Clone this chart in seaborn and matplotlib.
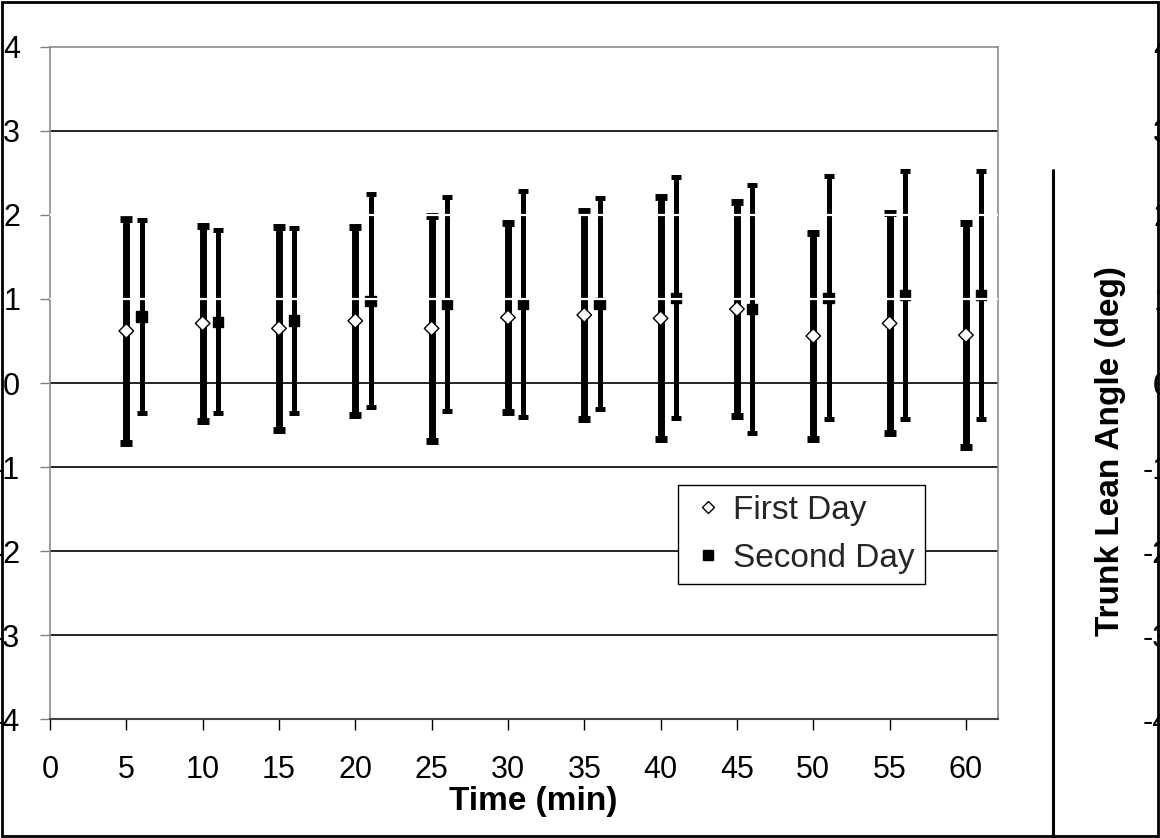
import numpy as np
import pandas as pd
import matplotlib
matplotlib.use("Agg")
import matplotlib.pyplot as plt
import seaborn as sns
from matplotlib.lines import Line2D
from matplotlib.patches import Rectangle

# ---------------- data ----------------
first_day_time = [5, 10, 15, 20, 25, 30, 35, 40, 45, 50, 55, 60]
first_day_mean = [0.62, 0.71, 0.65, 0.74, 0.65, 0.78, 0.81, 0.77, 0.88, 0.56, 0.71, 0.57]
first_day_err = [1.33, 1.16, 1.21, 1.12, 1.34, 1.13, 1.24, 1.44, 1.27, 1.23, 1.31, 1.33]

second_day_time = [6, 11, 16, 21, 26, 31, 36, 41, 46, 51, 56, 61]
second_day_mean = [0.79, 0.73, 0.745, 0.98, 0.94, 0.94, 0.945, 1.015, 0.885, 1.015, 1.045, 1.045]
second_day_err = [1.15, 1.09, 1.105, 1.27, 1.27, 1.34, 1.255, 1.435, 1.475, 1.445, 1.475, 1.475]

series_names = ["First Day", "Second Day"]
x_ticks = [0, 5, 10, 15, 20, 25, 30, 35, 40, 45, 50, 55, 60]
y_ticks = [-4, -3, -2, -1, 0, 1, 2, 3, 4]
x_label = "Time (min)"
y_label = "Trunk Lean Angle (deg)"

df = pd.DataFrame({
    "time": first_day_time + second_day_time,
    "mean": first_day_mean + second_day_mean,
    "day": [series_names[0]] * len(first_day_time) + [series_names[1]] * len(second_day_time),
})

# ---------------- style ----------------
sns.set_theme(style="white")
plt.rcParams["font.family"] = ["Liberation Sans", "DejaVu Sans"]
plt.rcParams["axes.unicode_minus"] = False

fig = plt.figure(figsize=(11.6, 8.38), dpi=100)
ax = fig.add_axes([50 / 1160, 1 - 719 / 838, 948 / 1160, 672 / 838])

# gridlines (1 and 2 appear as white breaks over the bars)
for yv in y_ticks[1:-1]:
    if yv in (1, 2):
        ax.axhline(yv, color="white", lw=1.6, zorder=5)
    else:
        ax.axhline(yv, color="black", lw=1.2, zorder=0.5)

# error bars
ax.errorbar(first_day_time, first_day_mean, yerr=first_day_err, fmt="none",
            ecolor="black", elinewidth=5, capsize=4, capthick=5, zorder=2)
ax.errorbar(second_day_time, second_day_mean, yerr=second_day_err, fmt="none",
            ecolor="black", elinewidth=3.6, capsize=3.6, capthick=3.6, zorder=2)

# markers
sns.scatterplot(data=df, x="time", y="mean", hue="day", style="day",
                markers={series_names[0]: "D", series_names[1]: "s"},
                palette={series_names[0]: "white", series_names[1]: "black"},
                edgecolor="black", linewidth=1, s=55, ax=ax, legend=False, zorder=4)

ax.set_xlim(0, 62.1)
ax.set_ylim(-4, 4)
ax.set_xticks(x_ticks, labels=[str(v) for v in x_ticks])
ax.set_yticks(y_ticks, labels=[str(v) for v in y_ticks])
ax.tick_params(axis="x", bottom=True, direction="out", length=8, width=1,
               color="black", labelsize=22, pad=18, labelcolor="black")
ax.tick_params(axis="y", left=True, direction="out", length=7, width=1,
               color="#808080", labelsize=22, pad=14.4, labelcolor="black")
ax.grid(False)

for side in ["left", "top", "right"]:
    ax.spines[side].set_color("#8c8c8c")
    ax.spines[side].set_linewidth(1.2)
ax.spines["bottom"].set_color("#444444")
ax.spines["bottom"].set_linewidth(1.5)

ax.set_xlabel(x_label, fontsize=24, fontweight="bold", color="black")
ax.xaxis.set_label_coords(0.51, -0.099)
ax.set_ylabel("")

# right-hand duplicate tick labels (clipped at figure edge, as in the reference)
ax2 = ax.twinx()
ax2.set_ylim(-4, 4)
ax2.set_yticks(y_ticks, labels=[str(v) for v in y_ticks], ha="right")
ax2.tick_params(axis="y", right=True, length=0, labelsize=22, pad=124, labelcolor="black")
ax2.grid(False)
for side in ["left", "top", "right", "bottom"]:
    ax2.spines[side].set_visible(False)

fig.text(1110 / 1160, 1 - 451 / 838, y_label, rotation=90, ha="center", va="center",
         fontsize=24, fontweight="bold", color="black")

# legend
handles = [
    Line2D([], [], marker="D", ls="none", mfc="white", mec="black", ms=6, mew=1, label=series_names[0]),
    Line2D([], [], marker="s", ls="none", mfc="black", mec="black", ms=6.5, mew=1, label=series_names[1]),
]
leg = ax.legend(handles=handles, loc="upper left", bbox_to_anchor=(628 / 948, 234 / 672),
                borderaxespad=0, frameon=True, fancybox=False, edgecolor="black", framealpha=1,
                fontsize=24, handlelength=1.2, handletextpad=0.15, borderpad=0.3,
                labelspacing=0.5)
leg.get_frame().set_linewidth(1)
leg.set_zorder(10)

# decorative frame lines
fig.add_artist(Line2D([1053 / 1160, 1053 / 1160], [0, 1 - 170 / 838], color="black", lw=2.2,
                      transform=fig.transFigure))
fig.add_artist(Rectangle((0.002, 0.002), 0.996, 0.996, fill=False, ec="black", lw=2,
                         transform=fig.transFigure))

fig.savefig("out.png", dpi=100)
